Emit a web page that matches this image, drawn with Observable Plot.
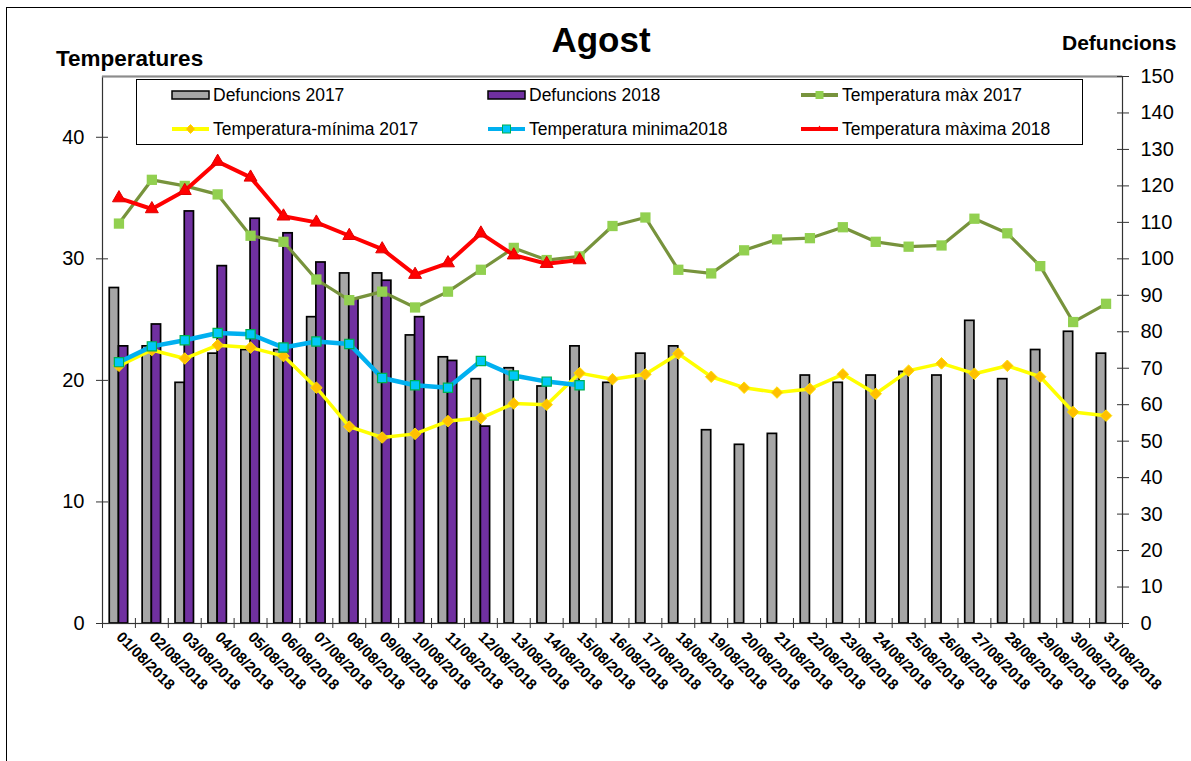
<!DOCTYPE html>
<html>
<head>
<meta charset="utf-8">
<script src="https://cdn.jsdelivr.net/npm/d3@7"></script>
<script src="https://cdn.jsdelivr.net/npm/@observablehq/plot@0.6"></script>
<style>
  html, body { margin: 0; padding: 0; background: #fff; }
  body { font-family: "Liberation Sans", Arial, sans-serif; }
  #wrap { position: relative; width: 1191px; height: 761px; overflow: hidden; }
  #outer { position: absolute; left: 6px; top: 7px; width: 1200px; height: 800px; border-left: 1.5px solid #000; border-top: 1.5px solid #000; }
  #chart { position: absolute; left: 0; top: 0; }
  .t { position: absolute; font-weight: bold; color: #000; white-space: nowrap; }
  #legend { position: absolute; left: 136px; top: 79px; width: 945px; height: 64px; border: 1.3px solid #000; background: #fff; }
  .li { position: absolute; height: 20px; display: flex; align-items: center; font-size: 17.5px; white-space: nowrap; }
  .li svg { margin-right: 3px; }
</style>
</head>
<body>
<div id="wrap">
  <div id="outer"></div>
  <div id="chart"></div>
  <div class="t" style="left:0; width:1202px; text-align:center; top:20px; font-size:35px;">Agost</div>
  <div class="t" style="left:56px; top:46px; font-size:22.5px;">Temperatures</div>
  <div class="t" style="left:1062px; top:31px; font-size:21px;">Defuncions</div>
  <div id="legend"></div>
</div>
<script>
// ---- data ----
const dayLabels = ["01/08/2018","02/08/2018","03/08/2018","04/08/2018","05/08/2018","06/08/2018","07/08/2018","08/08/2018","09/08/2018","10/08/2018","11/08/2018","12/08/2018","13/08/2018","14/08/2018","15/08/2018","16/08/2018","17/08/2018","18/08/2018","19/08/2018","20/08/2018","21/08/2018","22/08/2018","23/08/2018","24/08/2018","25/08/2018","26/08/2018","27/08/2018","28/08/2018","29/08/2018","30/08/2018","31/08/2018"];
const defuncions2017 = [92,76,66,74,75,75,84,96,96,79,73,67,70,65,76,66,74,76,53,49,52,68,66,68,69,68,83,67,75,80,74];
const defuncions2018 = [76,82,113,98,111,107,99,89,94,84,72,54];
const tempMax2017 = [32.9,36.5,36.0,35.3,31.9,31.4,28.3,26.6,27.3,26.0,27.3,29.1,30.9,29.9,30.2,32.7,33.4,29.1,28.8,30.7,31.6,31.7,32.6,31.4,31.0,31.1,33.3,32.1,29.4,24.8,26.3];
const tempMin2017 = [21.2,22.5,21.8,22.9,22.7,22.0,19.4,16.2,15.3,15.6,16.65,16.9,18.1,18.0,20.6,20.1,20.5,22.2,20.3,19.4,19.0,19.3,20.5,18.9,20.8,21.4,20.55,21.2,20.3,17.4,17.1];
const tempMin2018 = [21.5,22.8,23.3,23.9,23.8,22.7,23.2,23.0,20.2,19.6,19.4,21.6,20.4,19.9,19.6];
const tempMax2018 = [35.0,34.1,35.6,38.0,36.7,33.5,33.0,31.9,30.8,28.7,29.65,32.1,30.3,29.6,29.9];
const leftTicks = [0,10,20,30,40];
const rightTicks = [0,10,20,30,40,50,60,70,80,90,100,110,120,130,140,150];
const leftMax = 45, rightMax = 150;

// ---- build tables ----
const K = rightMax / leftMax; // temperature -> right-axis units
const rows = (arr) => arr.map((v, i) => ({day: i + 1, v}));
const d17 = rows(defuncions2017), d18 = rows(defuncions2018);
const tx17 = rows(tempMax2017), tn17 = rows(tempMin2017), tn18 = rows(tempMin2018), tx18 = rows(tempMax2018);
const nDays = dayLabels.length;
const barW = 0.28;
const font = "Liberation Sans, Arial, sans-serif";

const chart = Plot.plot({
  width: 1191, height: 761,
  marginLeft: 102, marginRight: 69, marginTop: 76, marginBottom: 138,
  style: {fontFamily: font, background: "transparent", overflow: "visible", color: "#000"},
  x: {domain: [0.5, nDays + 0.5], label: null},
  y: {domain: [0, rightMax], label: null, nice: false},
  marks: [
    Plot.rectY(d17, {x1: d => d.day - barW, x2: d => d.day, y: "v", fill: "#A6A6A6", stroke: "#000", strokeWidth: 1.7}),
    Plot.rectY(d18, {x1: d => d.day, x2: d => d.day + barW, y: "v", fill: "#7030A0", stroke: "#000", strokeWidth: 1.7}),
    Plot.frame({stroke: "#333", strokeWidth: 1.2}),
    Plot.ruleY([rightMax], {stroke: "#8c8c8c", strokeWidth: 2.2}),
    // temperature max 2017
    Plot.line(tx17, {x: "day", y: d => d.v * K, stroke: "#77933C", strokeWidth: 3.2}),
    Plot.dot(tx17, {x: "day", y: d => d.v * K, symbol: "square", r: 5.8, fill: "#92D050", stroke: "none"}),
    // temperature min 2017
    Plot.line(tn17, {x: "day", y: d => d.v * K, stroke: "#FFFF00", strokeWidth: 3.5}),
    Plot.dot(tn17, {x: "day", y: d => d.v * K, symbol: "diamond2", r: 5.2, fill: "#FFC000", stroke: "#FFE000", strokeWidth: 1}),
    // temperature min 2018
    Plot.line(tn18, {x: "day", y: d => d.v * K, stroke: "#00B0F0", strokeWidth: 4.5}),
    Plot.dot(tn18, {x: "day", y: d => d.v * K, symbol: "square", r: 5.2, fill: "#00C8F8", stroke: "#00B050", strokeWidth: 1.2}),
    // temperature max 2018
    Plot.line(tx18, {x: "day", y: d => d.v * K, stroke: "#FF0000", strokeWidth: 4}),
    Plot.dot(tx18, {x: "day", y: d => d.v * K, symbol: "triangle", r: 4.8, fill: "#FF0000", stroke: "#E00000", strokeWidth: 1}),
    // axes
    Plot.axisY({anchor: "left", ticks: leftTicks.map(t => t * K), tickFormat: v => String(Math.round(v / K)), tickSize: 12, dx: 6, tickPadding: 12, fontSize: 20, stroke: "#333"}),
    Plot.axisY({anchor: "right", ticks: rightTicks, tickFormat: d => String(d), tickSize: 12, dx: -6, tickPadding: 12, fontSize: 20, stroke: "#333"}),
    Plot.axisX({ticks: d3.range(0.5, nDays + 1, 1), tickFormat: () => "", tickSize: 10, dy: -5, stroke: "#333"}),
    Plot.axisX({ticks: d3.range(1, nDays + 1), tickFormat: d => dayLabels[d - 1], tickSize: 0, tickPadding: 11, tickRotate: 45, fontSize: 15, fontWeight: "bold"})
  ]
});
document.getElementById("chart").appendChild(chart);

// ---- legend ----
const legendItems = [
  {label: "Defuncions 2017", kind: "bar", fill: "#A6A6A6", col: 0, row: 0},
  {label: "Defuncions 2018", kind: "bar", fill: "#7030A0", col: 1, row: 0},
  {label: "Temperatura màx 2017", kind: "line", line: "#77933C", mark: "sq", mfill: "#92D050", mstroke: "none", col: 2, row: 0},
  {label: "Temperatura-mínima 2017", kind: "line", line: "#FFFF00", mark: "dia", mfill: "#FFC000", mstroke: "#FFE000", col: 0, row: 1},
  {label: "Temperatura minima2018", kind: "line", line: "#00B0F0", mark: "sq", mfill: "#00C8F8", mstroke: "#00B050", col: 1, row: 1},
  {label: "Temperatura màxima 2018", kind: "line", line: "#FF0000", mark: "tri", mfill: "#FF0000", mstroke: "none", col: 2, row: 1}
];
const colX = [34, 350, 663];
const rowY = [5, 39];
const lg = document.getElementById("legend");
for (const it of legendItems) {
  const div = document.createElement("div");
  div.className = "li";
  div.style.left = colX[it.col] + "px";
  div.style.top = rowY[it.row] + "px";
  let sym;
  if (it.kind === "bar") {
    sym = `<svg width="39" height="20"><rect x="1" y="6" width="37" height="8" fill="${it.fill}" stroke="#000" stroke-width="1.5"/></svg>`;
  } else {
    let m = "";
    if (it.mark === "sq") m = `<rect x="15.5" y="6" width="8" height="8" fill="${it.mfill}" stroke="${it.mstroke}" stroke-width="1"/>`;
    if (it.mark === "dia") m = `<path d="M19.5 5.5 L24 10 L19.5 14.5 L15 10Z" fill="${it.mfill}" stroke="${it.mstroke}"/>`;
    if (it.mark === "tri") m = `<path d="M19.5 6.5 L23 12 L16 12Z" fill="${it.mfill}"/>`;
    sym = `<svg width="39" height="20"><line x1="1" y1="10" x2="38" y2="10" stroke="${it.line}" stroke-width="4"/>${m}</svg>`;
  }
  div.innerHTML = sym + `<span>${it.label}</span>`;
  lg.appendChild(div);
}
</script>
</body>
</html>
